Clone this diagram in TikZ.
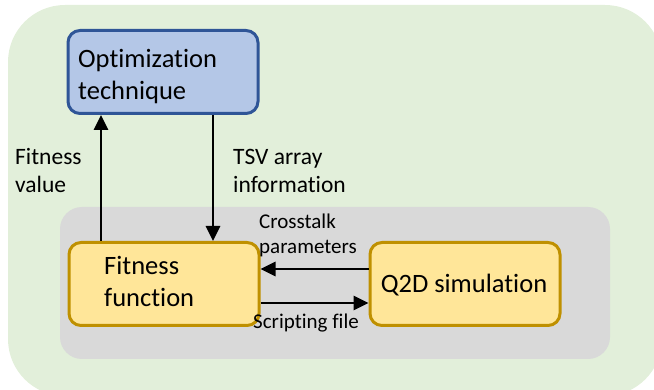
\documentclass[tikz,border=0pt]{standalone}
\usepackage{fontspec}
\setmainfont[Ligatures=NoCommon]{Carlito}
\usetikzlibrary{arrows.meta}
\definecolor{bggreen}{HTML}{E2EFDA}
\definecolor{bggray}{HTML}{D9D9D9}
\definecolor{bluefill}{HTML}{B4C7E7}
\definecolor{blueline}{HTML}{2F5597}
\definecolor{yelfill}{HTML}{FFE699}
\definecolor{yelline}{HTML}{BF9000}
\tikzset{
  bluebox/.style={draw=blueline, fill=bluefill, line width=3pt, rounded corners=12pt, minimum width=190pt, minimum height=83pt, inner sep=0pt},
  yelbox/.style={draw=yelline, fill=yelfill, line width=3pt, rounded corners=12pt, minimum width=190pt, minimum height=83pt, inner sep=0pt},
  boxtext/.style={font=\fontsize{26.5}{32}\selectfont, align=left, inner sep=0pt, anchor=base west},
  labeltext/.style={font=\fontsize{23.5}{28}\selectfont, align=left, inner sep=0pt, anchor=base west},
  smalltext/.style={font=\fontsize{21}{25}\selectfont, align=left, inner sep=0pt, anchor=base west},
  arr/.style={-{Triangle[length=15pt,width=14pt]}, line width=2.8pt, black},
}
\begin{document}
\begin{tikzpicture}[x=1pt,y=-1pt]
\useasboundingbox (0,0) rectangle (654,390);
\begin{scope}
\clip (0,0) rectangle (654,390);
\fill[bggreen, rounded corners=57pt] (8,5) rectangle (662,396);
\end{scope}
\fill[bggray, rounded corners=22pt] (60,207) rectangle (610,359);
\node[bluebox] (opt) at (163,72) {};
\node[yelbox] (fit) at (164,284) {};
\node[yelbox] (q2d) at (465,284) {};
\node[boxtext] (opttext) at (78,100) {Optimization\\technique};
\node[boxtext] (fittext) at (104,307) {Fitness\\function};
\node[boxtext, anchor=base] (q2dtext) at (464,293) {Q2D simulation};
\coordinate (xa) at (101,0);
\coordinate (xb) at (213,0);
\coordinate (ya) at (0,269);
\coordinate (yb) at (0,303);
\draw[arr] (fit.north -| xa) -- (opt.south -| xa);
\draw[arr] (opt.south -| xb) -- (fit.north -| xb);
\draw[arr] (q2d.west |- ya) -- (fit.east |- ya);
\draw[arr] (fit.east |- yb) -- (q2d.west |- yb);
\node[labeltext] (lfv) at (15,193) {Fitness\\value};
\node[labeltext] (ltsv) at (233,193) {TSV array\\information};
\node[smalltext] (lct) at (259,254) {Crosstalk\\parameters};
\node[smalltext] (lsf) at (253,329) {Scripting file};
\end{tikzpicture}
\end{document}
